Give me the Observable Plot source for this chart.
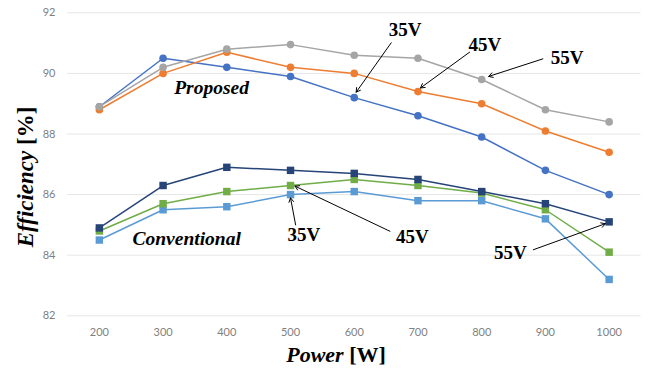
<!DOCTYPE html>
<html>
<head>
<meta charset="utf-8">
<script src="https://cdn.jsdelivr.net/npm/d3@7"></script>
<script src="https://cdn.jsdelivr.net/npm/@observablehq/plot@0.6"></script>
<style>
  html, body { margin: 0; padding: 0; background: #fff; }
  #chart { width: 651px; height: 371px; }
</style>
</head>
<body>
<div id="chart"></div>
<script>
// ---- data ----
const power = [200, 300, 400, 500, 600, 700, 800, 900, 1000];
const proposed35 = [88.9, 90.5, 90.2, 89.9, 89.2, 88.6, 87.9, 86.8, 86.0];
const proposed45 = [88.8, 90.0, 90.7, 90.2, 90.0, 89.4, 89.0, 88.1, 87.4];
const proposed55 = [88.9, 90.2, 90.8, 90.95, 90.6, 90.5, 89.8, 88.8, 88.4];
const conv35 = [84.5, 85.5, 85.6, 86.0, 86.1, 85.8, 85.8, 85.2, 83.2];
const conv45 = [84.8, 85.7, 86.1, 86.3, 86.5, 86.3, 86.05, 85.5, 84.1];
const conv55 = [84.9, 86.3, 86.9, 86.8, 86.7, 86.5, 86.1, 85.7, 85.1];
const yTicks = [82, 84, 86, 88, 90, 92];

const seriesList = [
  {name: "P35", values: proposed35, color: "#4472C4", symbol: "circle"},
  {name: "P45", values: proposed45, color: "#ED7D31", symbol: "circle"},
  {name: "P55", values: proposed55, color: "#A5A5A5", symbol: "circle"},
  {name: "C35", values: conv35, color: "#5B9BD5", symbol: "square"},
  {name: "C45", values: conv45, color: "#70AD47", symbol: "square"},
  {name: "C55", values: conv55, color: "#264478", symbol: "square"}
];

// annotation labels (data units)
const labels = [
  {text: "Proposed", x: 376, y: 89.53, italic: true},
  {text: "Conventional", x: 337, y: 84.55, italic: true},
  {text: "35V", x: 680, y: 91.42},
  {text: "45V", x: 805, y: 90.93},
  {text: "55V", x: 934, y: 90.52},
  {text: "35V", x: 521, y: 84.68},
  {text: "45V", x: 691, y: 84.61},
  {text: "55V", x: 845, y: 84.07}
];
const arrows = [
  {x1: 658, y1: 91.01, x2: 603, y2: 89.38},
  {x1: 781, y1: 90.70, x2: 704, y2: 89.52},
  {x1: 896, y1: 90.48, x2: 811, y2: 89.90},
  {x1: 508, y1: 85.00, x2: 500, y2: 85.89},
  {x1: 656, y1: 84.79, x2: 507, y2: 86.28},
  {x1: 881, y1: 84.18, x2: 994, y2: 85.04}
];

const rows = seriesList.flatMap(s => s.values.map((v, i) => ({series: s.name, x: power[i], y: v, color: s.color, symbol: s.symbol})));

const marks = [
  Plot.gridY(yTicks, {stroke: "#e6e6e6", strokeOpacity: 1, strokeWidth: 1}),
  Plot.axisX(power, {tickSize: 0, tickPadding: 12, fontSize: 11, fill: "#7f7f7f", fontFamily: "Lato", label: null, tickFormat: d => String(d)}),
  Plot.axisY(yTicks, {tickSize: 0, tickPadding: 12, fontSize: 11, fill: "#7f7f7f", fontFamily: "Lato", label: null})
];
for (const s of seriesList) {
  const d = rows.filter(r => r.series === s.name);
  marks.push(Plot.line(d, {x: "x", y: "y", stroke: s.color, strokeWidth: 1.5}));
  marks.push(Plot.dot(d, {x: "x", y: "y", fill: s.color, stroke: "none", symbol: s.symbol, r: s.symbol === "circle" ? 3.8 : 4.2}));
}
marks.push(Plot.arrow(arrows, {x1: "x1", y1: "y1", x2: "x2", y2: "y2", stroke: "#000", strokeWidth: 1, headLength: 7}));
marks.push(Plot.text(labels.filter(d => d.italic), {x: "x", y: "y", text: "text", fontFamily: "Liberation Serif", fontSize: 19.5, fontWeight: "bold", fontStyle: "italic", fill: "#000"}));
marks.push(Plot.text(labels.filter(d => !d.italic), {x: "x", y: "y", text: "text", fontFamily: "Liberation Serif", fontSize: 19, fontWeight: "bold", fill: "#000"}));

const chart = Plot.plot({
  width: 651,
  height: 371,
  marginLeft: 67,
  marginRight: 10.5,
  marginTop: 12.3,
  marginBottom: 55.7,
  x: {domain: [150, 1050], axis: null},
  y: {domain: [82, 92], axis: null},
  style: {background: "#fff"},
  marks
});

const svg = d3.select(chart);
// axis titles
const yt = svg.append("text")
  .attr("transform", "translate(33,177) rotate(-90)")
  .attr("text-anchor", "middle")
  .attr("font-family", "Liberation Serif")
  .attr("font-size", 23)
  .attr("font-weight", "bold")
  .attr("fill", "#000");
yt.append("tspan").attr("font-style", "italic").text("Efficiency");
yt.append("tspan").text(" [%]");

const xt = svg.append("text")
  .attr("x", 336)
  .attr("y", 362)
  .attr("text-anchor", "middle")
  .attr("font-family", "Liberation Serif")
  .attr("font-size", 22)
  .attr("font-weight", "bold")
  .attr("fill", "#000");
xt.append("tspan").attr("font-style", "italic").text("Power");
xt.append("tspan").text(" [W]");

document.getElementById("chart").appendChild(chart);
</script>
</body>
</html>
